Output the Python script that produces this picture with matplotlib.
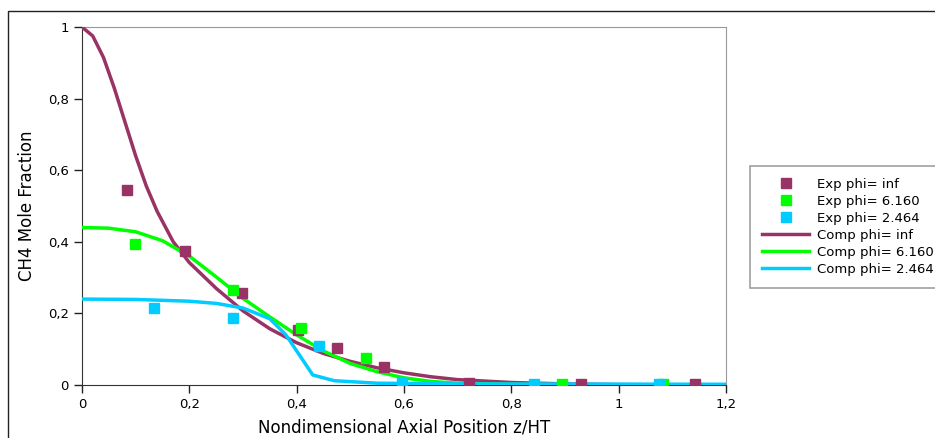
import matplotlib
matplotlib.use("Agg")
import matplotlib.pyplot as plt
from matplotlib.patches import Rectangle
from matplotlib.ticker import FuncFormatter

# experimental points
exp_inf_x = [0.084, 0.192, 0.298, 0.402, 0.475, 0.563, 0.721, 0.929, 1.142]
exp_inf_y = [0.545, 0.374, 0.257, 0.154, 0.103, 0.050, 0.006, 0.003, 0.003]
exp_616_x = [0.099, 0.281, 0.408, 0.529, 0.895, 1.083]
exp_616_y = [0.394, 0.265, 0.159, 0.075, 0.003, 0.004]
exp_246_x = [0.134, 0.281, 0.442, 0.596, 0.842, 1.075]
exp_246_y = [0.215, 0.187, 0.109, 0.008, 0.003, 0.004]

# computed profiles
comp_inf_x = [0, 0.02, 0.04, 0.06, 0.08, 0.1, 0.12, 0.14, 0.17, 0.2, 0.25, 0.3, 0.35,
              0.4, 0.45, 0.5, 0.55, 0.6, 0.65, 0.7, 0.8, 0.9, 1.0, 1.2]
comp_inf_y = [1.0, 0.975, 0.915, 0.83, 0.735, 0.64, 0.555, 0.485, 0.40, 0.342, 0.27, 0.207, 0.157,
              0.118, 0.088, 0.066, 0.048, 0.034, 0.023, 0.015, 0.007, 0.003, 0.001, 0.0]
comp_616_x = [0, 0.05, 0.1, 0.15, 0.2, 0.25, 0.3, 0.35, 0.4, 0.45, 0.5, 0.55,
              0.6, 0.65, 0.7, 0.8, 1.0, 1.2]
comp_616_y = [0.44, 0.438, 0.428, 0.403, 0.36, 0.302, 0.242, 0.19, 0.14, 0.095, 0.06, 0.037,
              0.02, 0.01, 0.005, 0.002, 0.0, 0.0]
comp_246_x = [0, 0.1, 0.2, 0.25, 0.3, 0.35, 0.38, 0.43, 0.47, 0.55, 0.7, 1.2]
comp_246_y = [0.24, 0.239, 0.234, 0.228, 0.215, 0.185, 0.14, 0.028, 0.012, 0.005, 0.003, 0.002]

PURPLE = "#993366"
GREEN = "#00ff00"
CYAN = "#00ccff"

plt.rcParams["font.family"] = "DejaVu Sans"

fig = plt.figure(figsize=(9.35, 4.38), dpi=100)
fig.patches.append(Rectangle((8 / 935, -0.1), 1.2, 1 - 11 / 438 + 0.1,
                             transform=fig.transFigure, fill=False,
                             edgecolor="#222222", linewidth=1.0))

ax = fig.add_axes([82 / 935, 53 / 438, 644 / 935, 358 / 438])

ms = 7
ax.plot(exp_inf_x, exp_inf_y, "s", color=PURPLE, ms=ms, mec=PURPLE, label="Exp phi= inf", zorder=4)
ax.plot(exp_616_x, exp_616_y, "s", color=GREEN, ms=ms, mec=GREEN, label="Exp phi= 6.160", zorder=4)
ax.plot(exp_246_x, exp_246_y, "s", color=CYAN, ms=ms, mec=CYAN, label="Exp phi= 2.464", zorder=4)
ax.plot(comp_inf_x, comp_inf_y, color=PURPLE, lw=2.5, label="Comp phi= inf", zorder=3)
ax.plot(comp_616_x, comp_616_y, color=GREEN, lw=2.5, label="Comp phi= 6.160", zorder=3)
ax.plot(comp_246_x, comp_246_y, color=CYAN, lw=2.5, label="Comp phi= 2.464", zorder=3)

ax.set_xlim(0, 1.2)
ax.set_ylim(0, 1)
ax.set_xticks([0, 0.2, 0.4, 0.6, 0.8, 1.0, 1.2])
ax.set_yticks([0, 0.2, 0.4, 0.6, 0.8, 1.0])
fmt = FuncFormatter(lambda v, p: f"{v:g}".replace(".", ","))
ax.xaxis.set_major_formatter(fmt)
ax.yaxis.set_major_formatter(fmt)
ax.tick_params(direction="out", length=6, width=1, labelsize=9.5, color="#222222")

for side in ["left", "bottom"]:
    ax.spines[side].set_color("#333333")
for side in ["top", "right"]:
    ax.spines[side].set_color("#999999")

ax.set_xlabel("Nondimensional Axial Position z/HT", fontsize=12, va="center")
ax.set_ylabel("CH4 Mole Fraction", fontsize=12, va="center")
ax.xaxis.set_label_coords(0.5, -(427 - 385) / 358)
ax.yaxis.set_label_coords(-(82 - 27) / 644, 0.5)

leg = ax.legend(loc="upper left", bbox_to_anchor=(750 / 935, 1 - 166 / 438),
                bbox_transform=fig.transFigure, frameon=True, fancybox=False,
                fontsize=9.5, handlelength=3.6, handletextpad=0.6, borderpad=0.9,
                labelspacing=0.3, borderaxespad=0)
leg.get_frame().set_edgecolor("#888888")
leg.get_frame().set_linewidth(1.2)

fig.savefig("out.png", dpi=100)
